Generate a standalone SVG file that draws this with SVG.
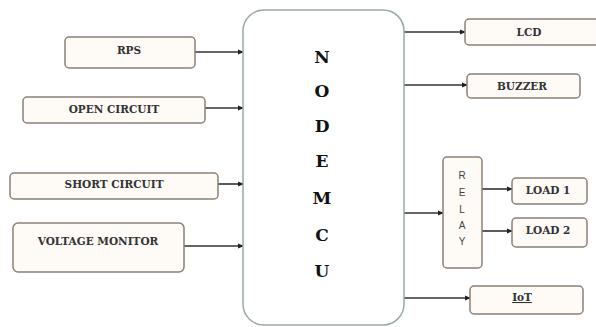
<svg xmlns="http://www.w3.org/2000/svg" width="596" height="327" viewBox="0 0 596 327">
<defs>
<marker id="ah" markerWidth="6" markerHeight="6" refX="5" refY="3" orient="auto" markerUnits="userSpaceOnUse">
<path d="M0,0.5 L6,3 L0,5.5 Z" fill="#222"/>
</marker>
<style>
.box{fill:#fefaf6;stroke:#8a8078;stroke-width:1.5}
.mcu{fill:#fff;stroke:#9aa8a6;stroke-width:1.5}
.lbl{font-family:"DejaVu Serif","Liberation Serif",serif;font-weight:bold;font-size:10.5px;fill:#333;text-anchor:middle}
.big{font-family:"DejaVu Serif","Liberation Serif",serif;font-weight:bold;font-size:17px;fill:#111;text-anchor:middle}
.rl{font-family:"Liberation Sans",Arial,sans-serif;font-size:10px;fill:#444;text-anchor:middle}
.ln{stroke:#333;stroke-width:1.6;fill:none;marker-end:url(#ah)}
</style>
</defs>
<rect width="596" height="327" fill="#fff"/>
<g id="connectors">
<line class="ln" x1="195" y1="52" x2="243" y2="52"/>
<line class="ln" x1="205" y1="108" x2="243" y2="108"/>
<line class="ln" x1="218" y1="184" x2="243" y2="184"/>
<line class="ln" x1="184" y1="246" x2="243" y2="246"/>
<line class="ln" x1="404" y1="32" x2="465" y2="32"/>
<line class="ln" x1="404" y1="85" x2="467" y2="85"/>
<line class="ln" x1="404" y1="213" x2="443" y2="213"/>
<line class="ln" x1="482" y1="189" x2="512" y2="189"/>
<line class="ln" x1="482" y1="231" x2="512" y2="231"/>
<line class="ln" x1="404" y1="298" x2="470" y2="298"/>
</g>
<g id="rps"><rect class="box" x="65" y="37" width="130" height="31" rx="4"/><text class="lbl" x="129" y="54">RPS</text></g>
<g id="open"><rect class="box" x="23" y="97" width="182" height="26" rx="4"/><text class="lbl" x="114" y="113">OPEN CIRCUIT</text></g>
<g id="short"><rect class="box" x="10" y="173" width="208" height="26" rx="4"/><text class="lbl" x="114" y="188">SHORT CIRCUIT</text></g>
<g id="voltage"><rect class="box" x="13" y="223" width="171" height="49" rx="5"/><text class="lbl" x="98" y="245">VOLTAGE MONITOR</text></g>
<g id="nodemcu">
<path class="mcu" d="M265,10 H383 A21,21 0 0 1 404,31 V304 A21,21 0 0 1 383,325 H265 A21,21 0 0 1 243,304 V31 A21,21 0 0 1 265,10 Z"/>
<text class="big" x="322" y="63">N</text>
<text class="big" x="322" y="97">O</text>
<text class="big" x="322" y="132">D</text>
<text class="big" x="322" y="167">E</text>
<text class="big" x="322" y="204">M</text>
<text class="big" x="322" y="241">C</text>
<text class="big" x="322" y="277">U</text>
</g>
<g id="lcd"><rect class="box" x="465" y="19" width="135" height="26" rx="4"/><text class="lbl" x="529" y="36">LCD</text></g>
<g id="buzzer"><rect class="box" x="467" y="74" width="113" height="24" rx="4"/><text class="lbl" x="522" y="90">BUZZER</text></g>
<g id="relay"><rect class="box" x="443" y="157" width="39" height="111" rx="4"/>
<text class="rl" x="462" y="179">R</text>
<text class="rl" x="462" y="196">E</text>
<text class="rl" x="462" y="213">L</text>
<text class="rl" x="462" y="229">A</text>
<text class="rl" x="462" y="245">Y</text>
</g>
<g id="load1"><rect class="box" x="512" y="178" width="75" height="26" rx="4"/><text class="lbl" x="548" y="194">LOAD 1</text></g>
<g id="load2"><rect class="box" x="512" y="218" width="75" height="29" rx="4"/><text class="lbl" x="548" y="234">LOAD 2</text></g>
<g id="iot"><rect class="box" x="470" y="286" width="113" height="28" rx="4"/><text class="lbl" x="522" y="301" text-decoration="underline">IoT</text></g>
</svg>
